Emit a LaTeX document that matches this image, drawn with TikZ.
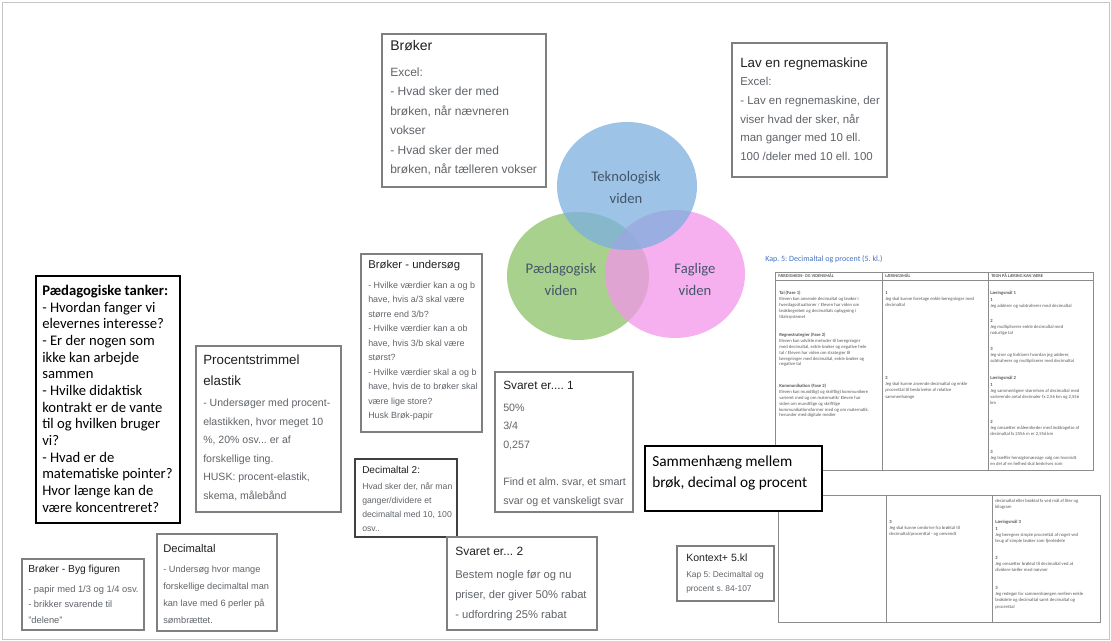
\documentclass[tikz,border=0pt]{standalone}
\usepackage{fontspec}
\setmainfont{Liberation Sans}
\newfontfamily\calibri{Carlito}
\frenchspacing
\definecolor{cardline}{HTML}{7F7F7F}
\definecolor{cardtext}{HTML}{5F6368}
\definecolor{cardhead}{HTML}{1F1F1F}
\definecolor{vennblue}{RGB}{124,175,222}
\definecolor{venngreen}{RGB}{140,194,104}
\definecolor{vennpink}{RGB}{243,150,235}
\definecolor{venntext}{HTML}{44546A}
\definecolor{kapblue}{HTML}{4472C4}
\definecolor{tabline}{HTML}{8C8C8C}
\definecolor{tabtext}{HTML}{595959}
\newcommand{\fs}[2]{\fontsize{#1}{#2}\selectfont}
\tikzset{
  card/.style={draw=cardline, line width=0.9pt},
  boldcard/.style={draw=black, line width=1.4pt},
  cardhd/.style={anchor=north west, inner sep=0pt, align=left, text=cardhead},
  cardbd/.style={anchor=north west, inner sep=0pt, align=left, text=cardtext},
  venn/.style={fill opacity=0.75},
  vennlbl/.style={align=center, text=venntext, font=\calibri\fs{11}{16.5}},
  tab/.style={draw=tabline, line width=0.4pt},
  tabhd/.style={anchor=west, inner sep=0pt, text=tabtext, font=\calibri\bfseries\fs{3.3}{4}},
  tabtxt/.style={anchor=north west, inner sep=0pt, align=left, text=tabtext, font=\calibri\fs{3.5}{4.7}},
}
\begin{document}
\begin{tikzpicture}[x=0.75pt,y=-0.75pt]
  \useasboundingbox (0,0) rectangle (1111,641);
  \draw[gray!45, line width=0.6pt] (2,2) rectangle (1109,639);
  % Venn diagram
  \fill[venngreen, venn] (578,276) ellipse (71 and 64);
  \fill[vennpink, venn] (675,274) ellipse (70 and 64);
  \fill[vennblue, venn] (627,186) ellipse (70 and 64);
  \node[vennlbl] (tek) at (626,187) {Teknologisk\\viden};
  \node[vennlbl] (paed) at (561,279) {Pædagogisk\\viden};
  \node[vennlbl] (fag) at (695,279) {Faglige\\viden};
  % Broker
  \draw[card] (382,34) rectangle (546,187);
  \node[cardhd, font=\fs{10.5}{14}] (brokhd) at (390,40.4) {Brøker};
  \node[cardbd, font=\fs{9}{14.6}] (brokbd) at (390,67.2)
    {Excel:\\- Hvad sker der med\\brøken, når nævneren\\vokser\\- Hvad sker der med\\brøken, når tælleren vokser};
  % Lav en regnemaskine
  \draw[card] (732,43) rectangle (887,177);
  \node[cardhd, font=\fs{10}{14}] (lavhd) at (740,57.7) {Lav en regnemaskine};
  \node[cardbd, font=\fs{8.6}{13.9}] (lavbd) at (740,77.4)
    {Excel:\\- Lav en regnemaskine, der\\viser hvad der sker, når\\man ganger med 10 ell.\\100 /deler med 10 ell. 100};
  % Paedagogiske tanker
  \draw[boldcard] (36,276) rectangle (180,523);
  \node[anchor=north west, inner sep=0pt, align=left, font=\calibri\fs{11}{12.5}] (tanker) at (42,285.1)
    {\textbf{Pædagogiske tanker:}\\- Hvordan fanger vi\\elevernes interesse?\\- Er der nogen som\\ikke kan arbejde\\sammen\\- Hvilke didaktisk\\kontrakt er de vante\\til og hvilken bruger\\vi?\\- Hvad er de\\matematiske pointer?\\Hvor længe kan de\\være koncentreret?};
  % Procentstrimmel
  \draw[card] (196,346) rectangle (341,512);
  \node[cardhd, font=\fs{10}{15.75}] (prochd) at (203,354.7) {Procentstrimmel\\elastik};
  \node[cardbd, font=\fs{7.9}{13.9}] (procbd) at (203,398.8)
    {- Undersøger med procent-\\elastikken, hvor meget 10\\\%, 20\% osv... er af\\forskellige ting.\\HUSK: procent-elastik,\\skema, målebånd};
  % Broker - undersog
  \draw[card] (361,254) rectangle (482,432);
  \node[cardhd, font=\fs{8.5}{11}] (undhd) at (368,260.5) {Brøker - undersøg};
  \node[cardbd, font=\fs{6.7}{10.9}] (undbd) at (368,281.4)
    {- Hvilke værdier kan a og b\\have, hvis a/3 skal være\\større end 3/b?\\- Hvilke værdier kan a ob\\have, hvis 3/b skal være\\størst?\\- Hvilke værdier skal a og b\\have, hvis de to brøker skal\\være lige store?\\Husk Brøk-papir};
  % Svaret er 1
  \draw[card] (495,372) rectangle (633,512);
  \node[cardhd, font=\fs{8.9}{11}] (sv1hd) at (503,381.2) {Svaret er.... 1};
  \node[cardbd, font=\fs{8}{13.9}] (sv1bd) at (503,403.7)
    {50\%\\3/4\\0,257\\~\\Find et alm. svar, et smart\\svar og et vanskeligt svar};
  % Decimaltal 2
  \draw[draw=black!75, line width=0.9pt] (355,459) rectangle (457,537);
  \node[cardhd, font=\fs{7.5}{10}] (dec2hd) at (362,465.5) {Decimaltal 2:};
  \node[cardbd, font=\fs{6.5}{10.5}] (dec2bd) at (362,482.5)
    {Hvad sker der, når man\\ganger/dividere et\\decimaltal med 10, 100\\osv..};
  % Svaret er 2
  \draw[card] (447,537) rectangle (597,630);
  \node[cardhd, font=\fs{9}{11}] (sv2hd) at (455,547.2) {Svaret er... 2};
  \node[cardbd, font=\fs{8.4}{15}] (sv2bd) at (455,570.5)
    {Bestem nogle før og nu\\priser, der giver 50\% rabat\\- udfordring 25\% rabat};
  % Decimaltal
  \draw[card] (157,534) rectangle (277,631);
  \node[cardhd, font=\fs{8.4}{11}] (dechd) at (163,544.5) {Decimaltal};
  \node[cardbd, font=\fs{6.9}{12.75}] (decbd) at (163,565.8)
    {- Undersøg hvor mange\\forskellige decimaltal man\\kan lave med 6 perler på\\sømbrættet.};
  % Broker - Byg figuren
  \draw[card] (22,559) rectangle (144,630);
  \node[cardhd, font=\fs{7.7}{10}] (byghd) at (28,564.9) {Brøker - Byg figuren};
  \node[cardbd, font=\fs{7}{11.6}] (bygbd) at (28,585.3)
    {- papir med 1/3 og 1/4 osv.\\- brikker svarende til\\"delene"};
  % Kontext
  \draw[card] (677,546) rectangle (774,601);
  \node[cardhd, font=\fs{7.9}{10}] (konhd) at (686,553.8) {Kontext+ 5.kl};
  \node[cardbd, font=\fs{6.3}{10.5}] (konbd) at (686,571.6) {Kap 5: Decimaltal og\\procent s. 84-107};
  % Table (Kap. 5)
  \node[anchor=north west, inner sep=0pt, text=kapblue, font=\calibri\fs{6}{7}] (kap) at (765,255) {Kap. 5: Decimaltal og procent (5. kl.)};
  \draw[tab] (775,272) rectangle (1093,470);
  \draw[tab] (775,280) -- (1093,280);
  \draw[tab] (882,272) -- (882,470);
  \draw[tab] (988,272) -- (988,470);
  \node[tabhd] (h1) at (778,276) {FÆRDIGHEDS- OG VIDENSMÅL};
  \node[tabhd] (h2) at (885,276) {LÆRINGSMÅL};
  \node[tabhd] (h3) at (991,276) {TEGN PÅ LÆRING KAN VÆRE};
  \node[tabtxt, font=\calibri\fs{3.5}{4.35}] (c1a) at (779,291.1)
    {\textbf{Tal (Fase 1)}\\Eleven kan anvende decimaltal og brøker i\\hverdagssituationer / Eleven har viden om\\brøkbegrebet og decimaltals opbygning i\\titalssystemet};
  \node[tabtxt, font=\calibri\fs{3.5}{4.35}] (c1b) at (779,333.1)
    {\textbf{Regnestrategier (Fase 2)}\\Eleven kan udvikle metoder til beregninger\\med decimaltal, enkle brøker og negative hele\\tal / Eleven har viden om strategier til\\beregninger med decimaltal, enkle brøker og\\negative tal};
  \node[tabtxt, font=\calibri\fs{3.5}{4.35}] (c1c) at (779,384.1)
    {\textbf{Kommunikation (Fase 2)}\\Eleven kan mundtligt og skriftligt kommunikere\\varieret med og om matematik/ Eleven har\\viden om mundtlige og skriftlige\\kommunikationsformer med og om matematik,\\herunder med digitale medier};
  \node[tabtxt] (c2a) at (885,291.1) {\textbf{1}\\Jeg skal kunne foretage enkle beregninger med\\decimaltal};
  \node[tabtxt] (c2b) at (885,376.1) {\textbf{2}\\Jeg skal kunne anvende decimaltal og enkle\\procenttal til beskrivelse af relative\\sammenhænge};
  \node[tabtxt] (c3a) at (990,291.1) {\textbf{Læringsmål 1}\\\textbf{1}\\Jeg adderer og subtraherer med decimaltal};
  \node[tabtxt] (c3b) at (990,319.1) {\textbf{2}\\Jeg multiplicerer enkle decimaltal med\\naturlige tal};
  \node[tabtxt] (c3c) at (990,347.1) {\textbf{3}\\Jeg viser og forklarer hvordan jeg adderer,\\subtraherer og multiplicerer med decimaltal};
  \node[tabtxt] (c3d) at (990,376.1) {\textbf{Læringsmål 2}\\\textbf{1}\\Jeg sammenligner størrelsen af decimaltal med\\varierende antal decimaler fx 2,56 km og 2,556\\km};
  \node[tabtxt] (c3e) at (990,420.1) {\textbf{2}\\Jeg omsætter måleenheder med inddragelse af\\decimaltal fx 2556 m er 2,556 km};
  \node[tabtxt] (c3f) at (990,450.1) {\textbf{3}\\Jeg træffer hensigtsmæssige valg om hvorvidt\\en del af en helhed skal beskrives som};
  \draw[tab] (778,495) rectangle (1100,622);
  \draw[tab] (886,495) -- (886,622);
  \draw[tab] (992,495) -- (992,622);
  \node[tabtxt] (d2a) at (889,520.1) {\textbf{3}\\Jeg skal kunne omskrive fra brøktal til\\decimaltal/procenttal - og omvendt};
  \node[tabtxt] (d3a) at (995,499.1) {decimaltal eller brøktal fx ved mål af liter og\\kilogram};
  \node[tabtxt] (d3b) at (995,520.1) {\textbf{Læringsmål 3}\\\textbf{1}\\Jeg beregner simple procenttal af noget ved\\brug af simple brøker som fjerdedele};
  \node[tabtxt] (d3c) at (995,556.1) {\textbf{2}\\Jeg omsætter brøktal til decimaltal ved at\\dividere tæller med nævner};
  \node[tabtxt] (d3d) at (995,586.1) {\textbf{3}\\Jeg redegør for sammenhængen mellem enkle\\brøkdele og decimaltal samt decimaltal og\\procenttal};
  % Sammenhaeng
  \draw[fill=white, draw=black, line width=1.1pt] (645,446) rectangle (822,511);
  \node[anchor=north west, inner sep=0pt, align=left, font=\calibri\fs{11.5}{15.75}] (samm) at (652,455.9)
    {Sammenhæng mellem\\brøk, decimal og procent};
\end{tikzpicture}
\end{document}
